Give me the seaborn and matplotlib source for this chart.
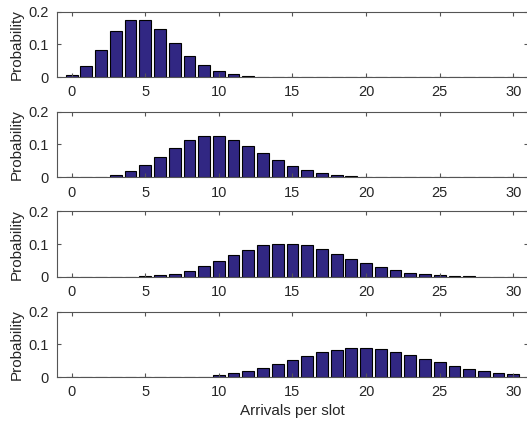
import numpy as np
import pandas as pd
import seaborn as sns
import matplotlib
matplotlib.use("Agg")
import matplotlib.pyplot as plt

# arrivals per slot, 0..30
arrivals = list(range(31))

# probabilities, one panel per row
p_mean5 = [0.007, 0.034, 0.084, 0.140, 0.175, 0.175, 0.146, 0.104, 0.065, 0.036,
           0.018, 0.008, 0.003, 0.001, 0.0005, 0.0002, 0, 0, 0, 0,
           0, 0, 0, 0, 0, 0, 0, 0, 0, 0, 0]
p_mean10 = [0.0, 0.0005, 0.002, 0.008, 0.019, 0.038, 0.063, 0.090, 0.113, 0.125,
            0.125, 0.114, 0.095, 0.073, 0.052, 0.035, 0.022, 0.013, 0.007, 0.004,
            0.002, 0.001, 0.0004, 0.0002, 0, 0, 0, 0, 0, 0, 0]
p_mean15 = [0, 0, 0, 0, 0.0006, 0.002, 0.005, 0.010, 0.019, 0.032,
            0.049, 0.066, 0.083, 0.096, 0.102, 0.102, 0.096, 0.085, 0.071, 0.056,
            0.042, 0.030, 0.020, 0.013, 0.008, 0.005, 0.003, 0.002, 0.001, 0.0005, 0.0002]
p_mean20 = [0, 0, 0, 0, 0, 0, 0, 0, 0.0004, 0.001,
            0.006, 0.011, 0.018, 0.027, 0.039, 0.052, 0.065, 0.076, 0.084, 0.089,
            0.089, 0.085, 0.077, 0.067, 0.056, 0.045, 0.034, 0.025, 0.018, 0.013, 0.008]

panels = [p_mean5, p_mean10, p_mean15, p_mean20]

plt.rcParams['font.family'] = ['Liberation Sans', 'DejaVu Sans']

fig = plt.figure(figsize=(5.27, 4.28), dpi=100)
# axes run a bit past the right edge of the image, like the original
bottoms = [0.820, 0.586, 0.353, 0.119]
axes = [fig.add_axes([0.108, b, 0.894, 0.153]) for b in bottoms]

for ax, probs in zip(axes, panels):
    df = pd.DataFrame({"arrivals": arrivals, "prob": probs})
    sns.barplot(data=df, x="arrivals", y="prob", ax=ax, order=arrivals,
                color="#312783", saturation=1, width=0.8,
                edgecolor="black", linewidth=0.8)
    ax.set_xlim(-1, 31)
    ax.set_ylim(0, 0.2)
    ax.set_xticks([0, 5, 10, 15, 20, 25, 30])
    ax.set_xticklabels(["0", "5", "10", "15", "20", "25", "30"])
    ax.set_yticks([0, 0.1, 0.2])
    ax.set_yticklabels(["0", "0.1", "0.2"])
    ax.tick_params(direction="in", top=True, right=True, length=3,
                   labelsize=10.5, colors="#555555", labelcolor="#262626", pad=6)
    ax.set_ylabel("Probability", fontsize=11, color="#262626", labelpad=3)
    ax.set_xlabel("")
    for s in ax.spines.values():
        s.set_color("#555555")
        s.set_linewidth(0.8)

axes[-1].set_xlabel("Arrivals per slot", fontsize=11, color="#262626", labelpad=3)

fig.savefig("out.png", dpi=100)
